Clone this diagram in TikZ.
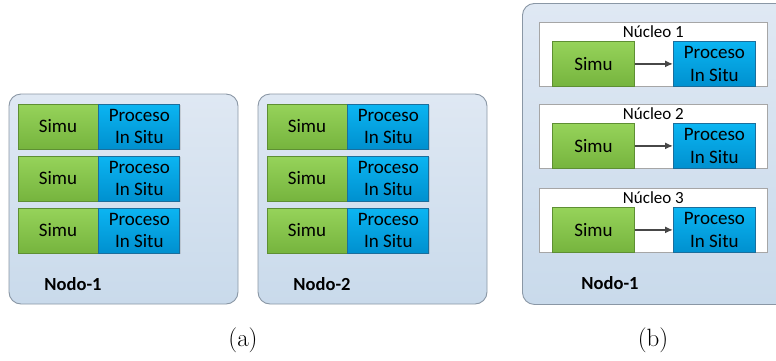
\documentclass[tikz,border=0pt]{standalone}
\usepackage{fontspec}
\setmainfont{Latin Modern Roman}
\newfontfamily\boxfont{Carlito}
\usetikzlibrary{arrows.meta,shadows}
\definecolor{panelTop}{HTML}{DFE8F3}
\definecolor{panelBot}{HTML}{C9DAEB}
\definecolor{panelLine}{HTML}{8A97A5}
\definecolor{simuTop}{HTML}{96D35A}
\definecolor{simuBot}{HTML}{76B43E}
\definecolor{simuLine}{HTML}{5E8F33}
\definecolor{procTop}{HTML}{0BB5F2}
\definecolor{procBot}{HTML}{0090CF}
\definecolor{procLine}{HTML}{1B6E9C}
\tikzset{
  x=1pt, y=-1pt,
  panel/.style={draw=panelLine, line width=0.9pt, rounded corners=12pt,
    top color=panelTop, bottom color=panelBot, inner sep=0pt},
  simu/.style={draw=simuLine, line width=0.8pt, top color=simuTop, bottom color=simuBot,
    inner sep=0pt, font=\boxfont\fontsize{19}{22.5}\selectfont,
    drop shadow={opacity=0.25, shadow xshift=1pt, shadow yshift=-1pt}},
  proc/.style={draw=procLine, line width=0.8pt, top color=procTop, bottom color=procBot,
    inner sep=0pt, align=center, font=\boxfont\fontsize{19}{22.5}\selectfont,
    drop shadow={opacity=0.25, shadow xshift=1pt, shadow yshift=-1pt}},
  core/.style={draw=gray!70, line width=0.8pt, fill=white, inner sep=0pt,
    drop shadow={opacity=0.2, shadow xshift=1pt, shadow yshift=-1pt}},
  corelabel/.style={font=\boxfont\fontsize{17}{18}\selectfont, inner sep=0pt},
  nodelabel/.style={font=\boxfont\bfseries\fontsize{18.5}{20}\selectfont, inner sep=0pt},
  caption/.style={font=\fontsize{25}{28}\selectfont, inner sep=0pt},
  flow/.style={draw=black!72, line width=1.4pt, -{Latex[length=8pt,width=7pt]}}
}
\begin{document}
\begin{tikzpicture}
\useasboundingbox (0,0) rectangle (776,360);
\clip (0,0) rectangle (776,360);

% ---- (a) two nodes, each with three simulation / in-situ pairs ----
\node[panel, minimum width=229pt, minimum height=210pt] (n1) at (123.5,199) {};
\node[panel, minimum width=229pt, minimum height=210pt] (n2) at (372.5,199) {};

\foreach \r/\yc in {1/126.5, 2/178.5, 3/230.5} {
  \node[simu, minimum width=80pt, minimum height=45pt] (a1s\r) at (58,\yc) {Simu};
  \node[proc, minimum width=81pt, minimum height=45pt, anchor=west] (a1p\r) at (a1s\r.east) {Proceso\\In Situ};
  \node[simu, minimum width=80pt, minimum height=45pt] (a2s\r) at (307,\yc) {Simu};
  \node[proc, minimum width=81pt, minimum height=45pt, anchor=west] (a2p\r) at (a2s\r.east) {Proceso\\In Situ};
}
\node[nodelabel] (l1) at (73,284) {Nodo-1};
\node[nodelabel] (l2) at (322,284) {Nodo-2};

% ---- (b) one node with three cores ----
\node[panel, minimum width=270pt, minimum height=301pt, anchor=north west] (nb) at (522,3) {};

\foreach \c/\yt in {1/22, 2/104, 3/188} {
  \node[core, minimum width=228pt, minimum height=64pt, anchor=north west] (k\c) at (539,\yt) {};
  \node[corelabel] (kl\c) at ([yshift=-10pt]k\c.north) {Núcleo \c};
  \node[simu, minimum width=82pt, minimum height=45pt, anchor=south west] (bs\c) at ([xshift=13pt]k\c.south west) {Simu};
  \node[proc, minimum width=82pt, minimum height=45pt, anchor=south east] (bp\c) at ([xshift=-12pt]k\c.south east) {Proceso\\In Situ};
  \draw[flow] (bs\c) -- (bp\c);
}
\node[nodelabel] (lb) at (610,283) {Nodo-1};

% ---- captions ----
\node[caption] (ca) at (243,340) {(a)};
\node[caption] (cb) at (653,340) {(b)};
\end{tikzpicture}
\end{document}
